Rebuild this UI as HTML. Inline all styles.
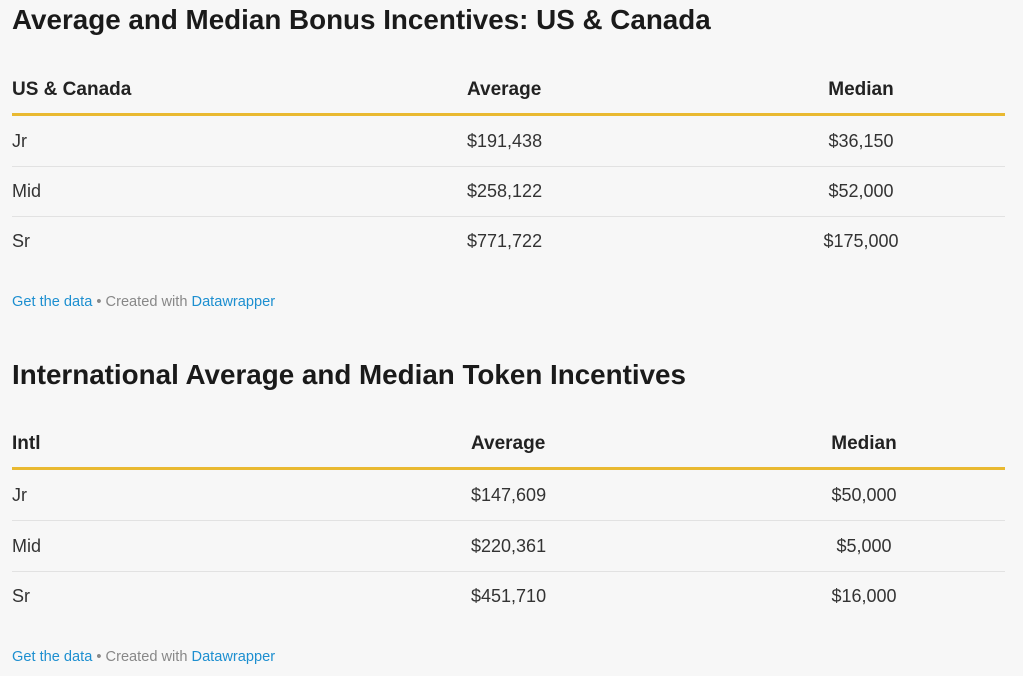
<!DOCTYPE html>
<html><head><meta charset="utf-8"><style>
body{margin:0;width:1023px;height:676px;background:#f7f7f7;font-family:"Liberation Sans",sans-serif;color:#222;position:relative;overflow:hidden}
.a{position:absolute;white-space:nowrap}
.t{font-size:27.8px;font-weight:bold;left:12px;color:#1a1a1a}
.h{font-size:19px;font-weight:bold;line-height:20px}
.c{font-size:18px;line-height:20px;color:#333}
.g{position:absolute;left:12px;width:993px;height:3px;background:#e9b931}
.s{position:absolute;left:12px;width:993px;height:1px;background:#e2e2e2}
.f{font-size:14.6px;left:12px;color:#888;line-height:16px}
.f span{color:#1d8fd0}
.m{transform:translateX(-50%)}
</style></head><body>
<div class="a t" style="top:4px">Average and Median Bonus Incentives: US &amp; Canada</div>
<div>
<div class="a h" style="left:12px;top:80px">US &amp; Canada</div>
<div class="a h" style="left:467px;top:80px">Average</div>
<div class="a h m" style="left:861px;top:80px">Median</div>
<div class="g" style="top:113px"></div>
<div class="a c" style="left:12px;top:131px">Jr</div>
<div class="a c" style="left:467px;top:131px">$191,438</div>
<div class="a c m" style="left:861px;top:131px">$36,150</div>
<div class="s" style="top:166px"></div>
<div class="a c" style="left:12px;top:181px">Mid</div>
<div class="a c" style="left:467px;top:181px">$258,122</div>
<div class="a c m" style="left:861px;top:181px">$52,000</div>
<div class="s" style="top:216px"></div>
<div class="a c" style="left:12px;top:231px">Sr</div>
<div class="a c" style="left:467px;top:231px">$771,722</div>
<div class="a c m" style="left:861px;top:231px">$175,000</div>
</div>
<div class="a f" style="top:294px"><span>Get the data</span> • Created with <span>Datawrapper</span></div>

<div class="a t" style="top:359px">International Average and Median Token Incentives</div>
<div>
<div class="a h" style="left:12px;top:434px">Intl</div>
<div class="a h" style="left:471px;top:434px">Average</div>
<div class="a h m" style="left:864px;top:434px">Median</div>
<div class="g" style="top:467px"></div>
<div class="a c" style="left:12px;top:485px">Jr</div>
<div class="a c" style="left:471px;top:485px">$147,609</div>
<div class="a c m" style="left:864px;top:485px">$50,000</div>
<div class="s" style="top:520px"></div>
<div class="a c" style="left:12px;top:536px">Mid</div>
<div class="a c" style="left:471px;top:536px">$220,361</div>
<div class="a c m" style="left:864px;top:536px">$5,000</div>
<div class="s" style="top:571px"></div>
<div class="a c" style="left:12px;top:586px">Sr</div>
<div class="a c" style="left:471px;top:586px">$451,710</div>
<div class="a c m" style="left:864px;top:586px">$16,000</div>
</div>
<div class="a f" style="top:649px"><span>Get the data</span> • Created with <span>Datawrapper</span></div>
</body></html>
